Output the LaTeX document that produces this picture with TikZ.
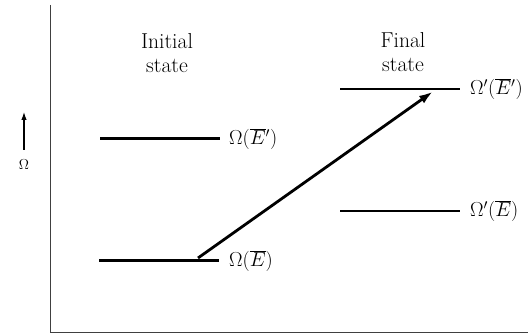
\documentclass[tikz,border=0pt]{standalone}
\usetikzlibrary{arrows.meta}
\begin{document}
\begin{tikzpicture}[x=1pt,y=-1pt,
  lvl/.style={line width=2.2pt},
  lab/.style={anchor=west,inner sep=0pt,font=\LARGE,scale=1.17},
  head/.style={align=center,inner sep=0pt,font=\LARGE,scale=1.25},
  axis/.style={line width=0.9pt,black!75}]
\useasboundingbox (0,0) rectangle (528,334);
% axes
\coordinate (o) at (50.5,332);
\coordinate (top) at (50.5,5);
\coordinate (right) at (528,332);
\draw[axis] (top) -- (o) -- (right);
% omega indicator
\coordinate (ob) at (24,150);
\coordinate (ot) at (24,112);
\draw[line width=1.1pt,-{Latex[length=8pt,width=5.5pt]}] (ob) -- (ot);
\node[inner sep=0pt,font=\Large] (om) at (24,165) {$\Omega$};
% headings
\node[head] (init) at (167,53) {Initial\\[-3pt]state};
\node[head] (fin) at (403,52) {Final\\[-3pt]state};
% levels
\coordinate (a1) at (99,260.5); \coordinate (a2) at (219,260.5);
\coordinate (b1) at (100,138.5); \coordinate (b2) at (219.5,138.5);
\coordinate (c1) at (340,89); \coordinate (c2) at (460,89);
\coordinate (d1) at (340,211); \coordinate (d2) at (460,211);
\draw[lvl] (a1) -- (a2);
\draw[lvl] (b1) -- (b2);
\draw[lvl] (c1) -- (c2);
\draw[lvl] (d1) -- (d2);
\node[lab] (la) at (229,261) {$\Omega(\overline{E})$};
\node[lab] (lb) at (229,139) {$\Omega(\overline{E}{}')$};
\node[lab] (lc) at (470,89) {$\Omega'(\overline{E}{}')$};
\node[lab] (ld) at (470,211) {$\Omega'(\overline{E})$};
% transition arrow
\coordinate (s) at (198,258);
\coordinate (t) at (433,91.5);
\draw[line width=2.8pt,-{Latex[length=14pt,width=9pt]}] (s) -- (t);
\end{tikzpicture}
\end{document}
